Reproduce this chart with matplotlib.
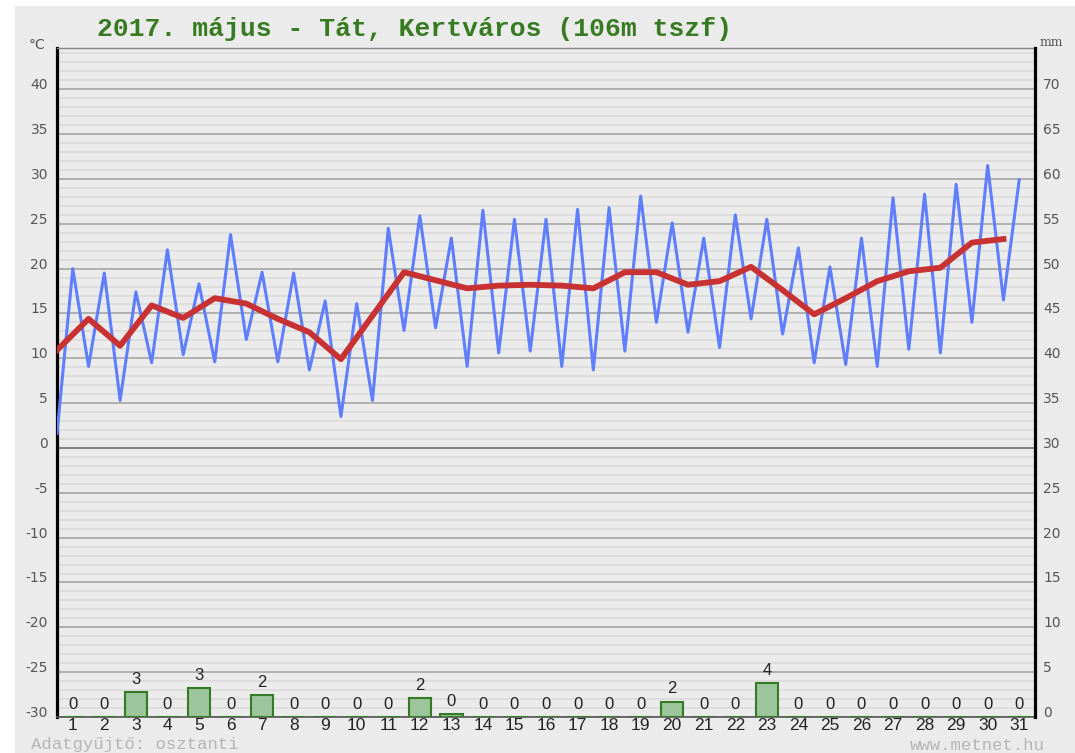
import numpy as np
import matplotlib
matplotlib.use('Agg')
import matplotlib.pyplot as plt
from matplotlib.patches import Rectangle

plt.rcParams['axes.unicode_minus'] = False

# --- daily data, May 2017 ---
days = np.arange(1, 32)
tmin = [1.6, 9.1, 5.3, 9.5, 10.4, 9.6, 12.1, 9.6, 8.7, 3.5, 5.3, 13.1, 13.4, 9.1, 10.6, 10.8,
        9.1, 8.7, 10.8, 14.0, 12.9, 11.2, 14.4, 12.7, 9.5, 9.3, 9.1, 11.0, 10.6, 14.0, 16.5]
tmax = [20.0, 19.5, 17.4, 22.1, 18.3, 23.8, 19.6, 19.5, 16.4, 16.1, 24.5, 25.9, 23.4, 26.5, 25.5, 25.5,
        26.6, 26.8, 28.1, 25.1, 23.4, 26.0, 25.5, 22.3, 20.2, 23.4, 27.9, 28.3, 29.4, 31.5, 29.9]
tmean = [10.9, 14.4, 11.4, 15.9, 14.5, 16.7, 16.1, 14.4, 12.9, 9.9, 14.75, 19.6, 18.7, 17.8, 18.1, 18.2,
         18.1, 17.8, 19.6, 19.6, 18.2, 18.6, 20.2, 17.6, 14.9, 16.7, 18.6, 19.7, 20.1, 22.9, 23.3]
precip = [0, 0, 2.8, 0, 3.2, 0, 2.4, 0, 0, 0, 0, 2.1, 0.3, 0, 0, 0,
          0, 0, 0, 1.7, 0, 0, 3.8, 0, 0, 0, 0, 0, 0, 0, 0]

W, H = 1075, 753
fig = plt.figure(figsize=(W / 100, H / 100), dpi=100)
fig.patch.set_facecolor('white')
fig.add_artist(Rectangle((15 / W, 0), 1, 1 - 6 / H, transform=fig.transFigure,
                         facecolor='#ebebeb', edgecolor='none', zorder=-10))

ax = fig.add_axes([57 / W, 1 - 717 / H, (1035 - 57) / W, (717 - 48) / H])
ax.set_facecolor('#ebebeb')
ax.set_xlim(0.5, 31.5)
ax.set_ylim(-30, 44.6)

# grid: 1 degree minor, 5 degree major, black zero line
ax.set_yticks(np.arange(-30, 45, 1), minor=True)
ax.set_yticks(np.arange(-30, 45, 5))
ax.grid(True, which='minor', axis='y', color='#dcdcdc', linewidth=1.3, zorder=0)
ax.grid(True, which='major', axis='y', color='#a0a0a0', linewidth=1.1, zorder=0)
ax.axhline(0, color='black', linewidth=1.2, zorder=1)
ax.tick_params(which='both', length=0)
ax.tick_params(axis='y', pad=6.5, labelsize=10, labelcolor='#555555')
for t in ax.get_yticklabels():
    t.set_verticalalignment('baseline')

ax.set_xticks(days)
ax.set_xticklabels([str(d) for d in days], fontfamily='Liberation Sans', fontsize=12.5, color='#222222')
ax.tick_params(axis='x', pad=1)

ax.spines['right'].set_visible(False)
ax.spines['left'].set_color('black')
ax.spines['left'].set_linewidth(2.3)
ax.spines['top'].set_color('#888888')
ax.spines['top'].set_linewidth(1.0)
ax.spines['bottom'].set_color('#555555')
ax.spines['bottom'].set_linewidth(1.2)

# min/max zigzag: min at day-0.5, max at day
xs = np.column_stack([days - 0.5, days]).ravel()
ys = np.column_stack([tmin, tmax]).ravel()
ax.plot(xs, ys, color='#5f7fff', linewidth=2.2, zorder=3)
ax.plot(days - 0.5, tmean, color='#c83232', linewidth=4.2, zorder=4)

# precipitation on right axis (mm)
ax2 = ax.twinx()
ax2.set_ylim(0, 74.6)
ax2.set_yticks(np.arange(0, 75, 5))
ax2.tick_params(length=0, pad=6, labelsize=10, labelcolor='#555555')
for t in ax2.get_yticklabels():
    t.set_verticalalignment('baseline')
for s in ['left', 'top', 'bottom']:
    ax2.spines[s].set_visible(False)
ax2.spines['right'].set_color('black')
ax2.spines['right'].set_linewidth(2.3)

ax2.bar(days, precip, width=0.71, color='#9cc59b', edgecolor='#357a26', linewidth=1.5, zorder=3)
for d, p in zip(days, precip):
    ax2.annotate(f'{p:.0f}', (d, p), xytext=(0, 6), textcoords='offset points',
                 ha='center', va='baseline', fontfamily='Liberation Sans', fontsize=12, color='#222222')

fig.text(97 / W, 1 - 29 / H, '2017. május - Tát, Kertváros (106m tszf)', ha='left', va='center',
         fontfamily='Liberation Mono', fontweight='bold', fontsize=19, color='#367b20')
fig.text(37 / W, 1 - 45 / H, '°C', ha='center', va='center', fontsize=10, color='#555555')
fig.text(1051 / W, 1 - 43 / H, 'mm', ha='center', va='center', fontfamily='DejaVu Serif',
         fontsize=9, color='#555555')
fig.text(31 / W, 1 - 745 / H, 'Adatgyűjtő: osztanti', ha='left', va='center',
         fontfamily='Liberation Mono', fontsize=12.5, color='#b5b5b5')
fig.text(1045 / W, 1 - 745 / H, 'www.metnet.hu', ha='right', va='center',
         fontfamily='Liberation Mono', fontsize=12.5, color='#b5b5b5')

fig.savefig('out.png', dpi=100)
